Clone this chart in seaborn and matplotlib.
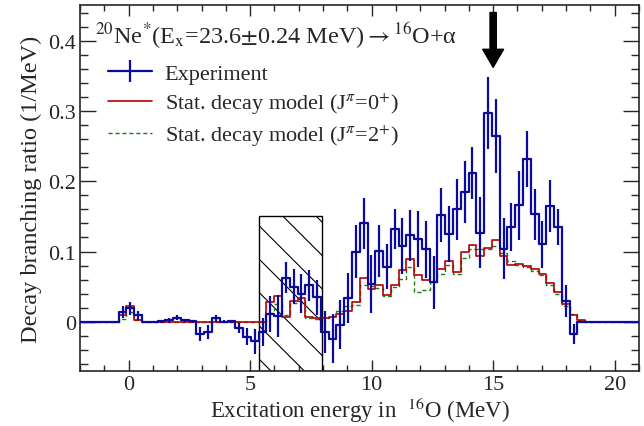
import numpy as np
import pandas as pd
import seaborn as sns
import matplotlib.pyplot as plt
from matplotlib.lines import Line2D
from matplotlib.patches import Rectangle
from matplotlib.ticker import MultipleLocator

# histogram binning (MeV): 0.32 MeV bins, first filled bin starts at -0.41 MeV
bin_width = 0.32
first_edge = -0.41

# experiment (1/MeV) and its errors, one value per filled bin
exp_vals = [0.014, 0.019, 0.009, 0.0, 0.0, 0.001, 0.002, 0.006, 0.002, 0.001,
            -0.017, -0.015, 0.005, 0.0, 0.001, -0.009, -0.021, -0.028, -0.014, 0.011,
            0.008, 0.063, 0.050, 0.040, 0.052, 0.035, -0.015, -0.024, -0.004, 0.034,
            0.100, 0.140, 0.054, 0.101, 0.078, 0.132, 0.108, 0.123, 0.118, 0.103,
            0.056, 0.152, 0.125, 0.160, 0.185, 0.212, 0.127, 0.297, 0.264, 0.104,
            0.135, 0.166, 0.232, 0.153, 0.110, 0.165, 0.135, 0.030, -0.017, 0.0]
exp_errs = [0.009, 0.009, 0.007, 0.0, 0.0, 0.002, 0.003, 0.004, 0.002, 0.002,
            0.010, 0.010, 0.005, 0.002, 0.002, 0.007, 0.012, 0.018, 0.020, 0.025,
            0.030, 0.022, 0.025, 0.028, 0.022, 0.025, 0.030, 0.035, 0.035, 0.035,
            0.038, 0.036, 0.041, 0.037, 0.032, 0.029, 0.040, 0.036, 0.040, 0.040,
            0.038, 0.039, 0.040, 0.043, 0.044, 0.037, 0.050, 0.051, 0.053, 0.043,
            0.034, 0.049, 0.040, 0.036, 0.034, 0.037, 0.026, 0.023, 0.014, 0.0]
# statistical decay model, J=0+ and J=2+
model_0p = [0.010, 0.023, 0.003, 0.0, 0.0, 0.0, 0.0, 0.0, 0.0, 0.0,
            0.0, 0.0, 0.0, 0.0, 0.0, 0.0, 0.0, 0.0, 0.0, 0.028,
            0.037, 0.007, 0.029, 0.034, 0.007, 0.005, 0.005, 0.007, 0.011, 0.016,
            0.028, 0.063, 0.047, 0.052, 0.038, 0.052, 0.074, 0.089, 0.067, 0.059,
            0.056, 0.075, 0.086, 0.071, 0.100, 0.109, 0.094, 0.105, 0.117, 0.093,
            0.081, 0.082, 0.080, 0.075, 0.068, 0.055, 0.042, 0.026, 0.010, 0.003]
model_2p = [0.004, 0.014, 0.002, 0.0, 0.0, 0.0, 0.0, 0.0, 0.0, 0.0,
            0.0, 0.0, 0.0, 0.0, 0.0, 0.0, 0.0, 0.0, 0.0, 0.012,
            0.026, 0.009, 0.027, 0.030, 0.006, 0.004, 0.006, 0.008, 0.015, 0.022,
            0.024, 0.052, 0.051, 0.048, 0.037, 0.050, 0.061, 0.078, 0.042, 0.045,
            0.056, 0.068, 0.081, 0.068, 0.091, 0.104, 0.104, 0.103, 0.108, 0.098,
            0.087, 0.081, 0.078, 0.072, 0.066, 0.053, 0.040, 0.022, 0.011, 0.003]

excluded_region = (5.35, 7.97, 0.15)   # hatched box: from, to, height
arrow_energy = 15.0

xticks = [0, 5, 10, 15, 20]
yticks = [0, 0.1, 0.2, 0.3, 0.4]
ytick_labels = ["0", "0.1", "0.2", "0.3", "0.4"]

# pad the histograms with empty bins so the flat line spans the frame
n_lo, n_hi = 6, 8
n = len(exp_vals)
centres = first_edge + bin_width * (np.arange(-n_lo, n + n_hi) + 0.5)
pad = lambda v: np.concatenate([np.zeros(n_lo), v, np.zeros(n_hi)])
df = pd.DataFrame({"E": centres, "exp": pad(exp_vals), "err": pad(exp_errs),
                   "m0": pad(model_0p), "m2": pad(model_2p)})

sns.set_style("ticks")
plt.rcParams['font.family'] = ['Liberation Serif', 'DejaVu Serif']
plt.rcParams['mathtext.fontset'] = 'stix'
plt.rcParams['hatch.linewidth'] = 0.8

blue = "#0a0aa0"
red = "#b40000"
green = "#1d7a1d"

fig = plt.figure(figsize=(6.44, 4.27), dpi=100)
ax = fig.add_axes([0.1242, 0.1288, 0.868, 0.856])

lo, hi, h = excluded_region
ax.add_patch(Rectangle((lo, -0.07), hi - lo, h + 0.07, fill=False, hatch='\\',
                       edgecolor='black', lw=1.0, zorder=1))

sns.lineplot(data=df, x="E", y="m2", drawstyle="steps-mid", color=green, lw=1.0,
             dashes=False, linestyle=(0, (3, 2)), estimator=None, ax=ax, zorder=2)
sns.lineplot(data=df, x="E", y="m0", drawstyle="steps-mid", color=red, lw=1.2,
             estimator=None, ax=ax, zorder=3)
sns.lineplot(data=df, x="E", y="exp", drawstyle="steps-mid", color=blue, lw=1.6,
             estimator=None, ax=ax, zorder=4)
has_err = df["err"] > 0
ax.errorbar(df["E"][has_err], df["exp"][has_err], yerr=df["err"][has_err], fmt='none',
            ecolor=blue, elinewidth=1.6, capsize=0, zorder=4)

ax.annotate('', xy=(arrow_energy, 0.362), xytext=(arrow_energy, 0.44),
            arrowprops=dict(facecolor='black', edgecolor='black', width=4.5,
                            headwidth=15, headlength=13, shrink=0))

ax.set_xlim(-2, 21)
ax.set_ylim(-0.07, 0.45)
ax.set_xticks(xticks)
ax.set_yticks(yticks)
ax.set_yticklabels(ytick_labels)
ax.xaxis.set_minor_locator(MultipleLocator(1))
ax.yaxis.set_minor_locator(MultipleLocator(0.02))
ax.tick_params(which='both', direction='in', top=True, right=True, labelsize=16, width=1)
ax.tick_params(axis='x', which='major', length=8, pad=3)
ax.tick_params(axis='x', which='minor', length=4)
ax.tick_params(axis='y', which='major', length=11.5, pad=3)
ax.tick_params(axis='y', which='minor', length=6)
for s in ax.spines.values():
    s.set_linewidth(1.2)

ax.set_xlabel("Excitation energy in  $^{16}$O (MeV)", fontsize=16.5, labelpad=0)
ax.set_ylabel("Decay branching ratio (1/MeV)", fontsize=17.5, labelpad=4)

ax.text(0.027, 0.898, r"$^{20}$Ne$^{*}$(E$_{\mathrm{x}}$=23.6$\pm$0.24 MeV)$\rightarrow$$^{16}$O+α",
        transform=ax.transAxes, fontsize=17.5, ha='left', va='baseline')

handles = [
    Line2D([], [], color=blue, lw=1.6, marker='|', markersize=16, markeredgewidth=1.6),
    Line2D([], [], color=red, lw=1.2),
    Line2D([], [], color=green, lw=1.0, linestyle=(0, (3, 2))),
]
labels = ["Experiment", r"Stat. decay model (J$^{\pi}$=0$^{+}$)",
          r"Stat. decay model (J$^{\pi}$=2$^{+}$)"]
ax.legend(handles, labels, loc='upper left', bbox_to_anchor=(0.05, 0.842), frameon=False,
          fontsize=16, handlelength=2.0, handletextpad=0.55, labelspacing=0.3,
          borderpad=0, borderaxespad=0)

fig.savefig("out.png", dpi=100)
